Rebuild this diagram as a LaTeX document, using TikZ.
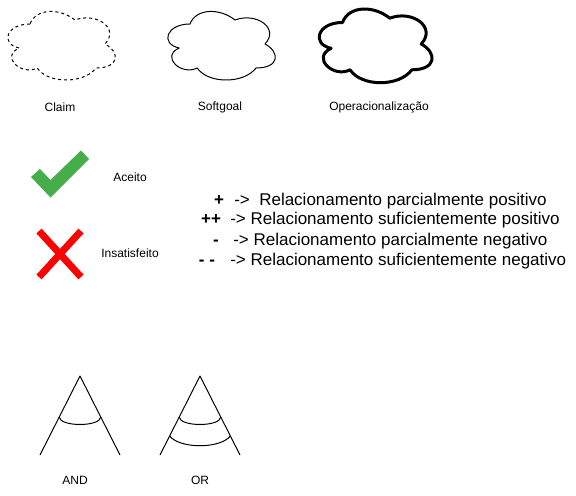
\documentclass[tikz,border=0pt]{standalone}
\usepackage{fontspec}
\setmainfont{Liberation Sans}
\definecolor{okgreen}{RGB}{69,173,74}
\definecolor{badred}{RGB}{255,0,0}
\tikzset{
  cloudshape/.style={insert path={(0.25,0.25) .. controls (0.05,0.25) and (0,0.5) .. (0.16,0.55)
     .. controls (0,0.66) and (0.18,0.9) .. (0.31,0.8)
     .. controls (0.4,1) and (0.7,1) .. (0.8,0.8)
     .. controls (1,0.8) and (1,0.6) .. (0.875,0.5)
     .. controls (1,0.3) and (0.8,0.1) .. (0.625,0.2)
     .. controls (0.5,0.05) and (0.3,0.05) .. (0.25,0.25) -- cycle}},
  lbl/.style={font=\fontsize{9}{11}\selectfont, inner sep=0pt},
  legtext/.style={font=\fontsize{12.75}{15}\selectfont, inner sep=0pt, anchor=base west},
  legsym/.style={font=\fontsize{12.75}{15}\selectfont\bfseries, inner sep=0pt, anchor=base},
  thinline/.style={line width=0.75pt, line join=round},
}
\begin{document}
\begin{tikzpicture}[x=0.75pt,y=-0.75pt]
\useasboundingbox (0,0) rectangle (576,496);

% clouds
\begin{scope}[shift={(0,4)}, xscale=120, yscale=80]
  \draw[thinline, dash pattern=on 2.25pt off 2.25pt, cloudshape];
\end{scope}
\begin{scope}[shift={(160,4)}, xscale=120, yscale=80]
  \draw[thinline, cloudshape];
\end{scope}
\begin{scope}[shift={(311,1)}, xscale=126, yscale=86]
  \draw[line width=2.25pt, line join=round, cloudshape];
\end{scope}

\node[lbl] (claimlbl) at (60,107.5) {Claim};
\node[lbl] (softlbl) at (220,107.5) {Softgoal};
\node[lbl] (oplbl) at (379,107.5) {Operacionalização};

% check mark
\fill[okgreen] (31,177) -- (40,169) -- (50.5,180) -- (81,150.5) -- (89,159) -- (50.5,197.5) -- cycle;
\node[lbl] (aceito) at (130,177) {Aceito};

% red X
\draw[badred, line width=5.25pt] (39,231) -- (81,277);
\draw[badred, line width=5.25pt] (81,231) -- (39,277);
\node[lbl] (insat) at (130,253) {Insatisfeito};

% legend
\node[legsym] (s1) at (219,205) {+};
\node[legtext] (t1) at (234,205) {->~ Relacionamento parcialmente positivo};
\node[legsym] (s2) at (211,224.5) {++};
\node[legtext] (t2) at (230,224.5) {-> Relacionamento suficientemente positivo};
\node[legsym] (s3) at (216,245.5) {-};
\node[legtext] (t3) at (233,245.5) {-> Relacionamento parcialmente negativo};
\node[legsym] (s4) at (207,265) {- -};
\node[legtext] (t4) at (230,265) {-> Relacionamento suficientemente negativo};

% AND
\draw[thinline] (40,455) -- (80,376) -- (120,455);
\draw[thinline] (59.2,417) .. controls (60,427) and (100,427) .. (100.8,417);
\node[lbl] (andlbl) at (75,480) {AND};

% OR
\draw[thinline] (160,455) -- (200,376) -- (240,455);
\draw[thinline] (179.2,417) .. controls (180,427) and (220,427) .. (220.8,417);
\draw[thinline] (169.6,436) .. controls (180,449) and (220,449) .. (230.4,436);
\node[lbl] (orlbl) at (200,480) {OR};
\end{tikzpicture}
\end{document}
